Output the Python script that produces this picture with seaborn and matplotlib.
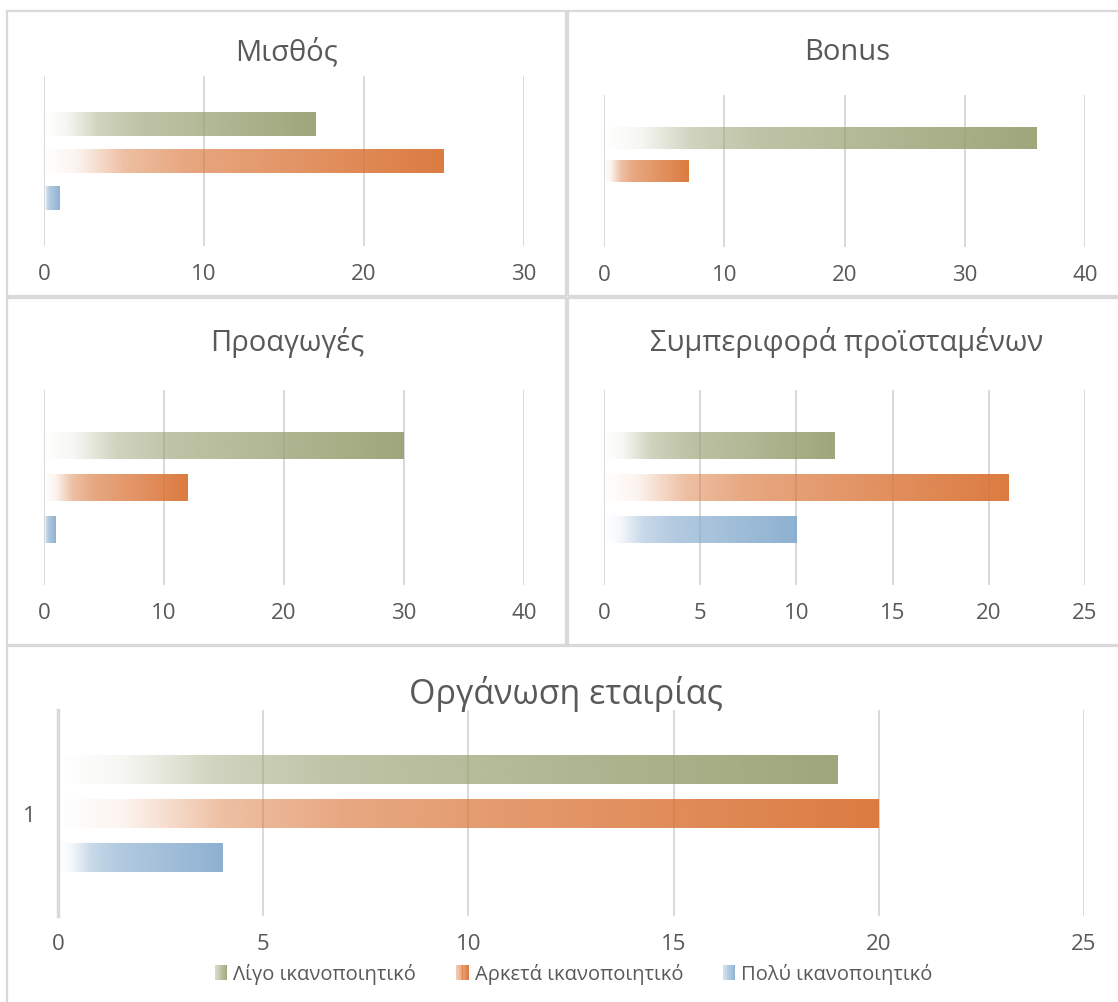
import numpy as np
import pandas as pd
import matplotlib
matplotlib.use("Agg")
import matplotlib.pyplot as plt
import seaborn as sns
from matplotlib.patches import Rectangle, Patch
from matplotlib.legend_handler import HandlerBase
from matplotlib.colors import to_rgb

# ---- data -------------------------------------------------------------
levels = ["Λίγο ικανοποιητικό", "Αρκετά ικανοποιητικό", "Πολύ ικανοποιητικό"]
category = ["1"]

salary = [17, 25, 1]
bonus = [36, 7, 0]
promotions = [30, 12, 1]
supervisors = [12, 21, 10]
organisation = [19, 20, 4]

titles = ["Μισθός", "Bonus", "Προαγωγές", "Συμπεριφορά προϊσταμένων", "Οργάνωση εταιρίας"]

ticks_salary = [0, 10, 20, 30]
ticks_bonus = [0, 10, 20, 30, 40]
ticks_promotions = [0, 10, 20, 30, 40]
ticks_supervisors = [0, 5, 10, 15, 20, 25]
ticks_organisation = [0, 5, 10, 15, 20, 25]

# ---- style ------------------------------------------------------------
sns.set_theme(style="white")
plt.rcParams["font.family"] = ["Open Sans", "DejaVu Sans"]
TEXT = "#595959"
GRID = "#D0D0D0"
BORDER = "#D9D9D9"
palette = ["#989F70", "#D97132", "#85ABCE"]

W, H = 1118, 1003
fig = plt.figure(figsize=(W / 100, H / 100), dpi=100)
fig.patch.set_facecolor("white")


def alpha_profile(t):
    return np.interp(t, [0.0, 0.08, 0.2, 0.35, 1.0], [0.0, 0.08, 0.45, 0.62, 0.93])


def gradient_fill(ax, patch, color):
    x, y = patch.get_x(), patch.get_y()
    w, h = patch.get_width(), patch.get_height()
    if w <= 0:
        patch.set_visible(False)
        return
    n = 256
    rgba = np.zeros((1, n, 4))
    rgba[..., :3] = to_rgb(color)
    rgba[0, :, 3] = alpha_profile(np.linspace(0, 1, n))
    ax.imshow(rgba, extent=(x, x + w, y, y + h), aspect="auto",
              interpolation="bilinear", zorder=1)
    patch.set_facecolor("none")
    patch.set_edgecolor("none")


def panel(values, ticks, title, box, title_pos, title_size, show_cat=False):
    x0, x1, ytop, ybot, cmid, spacing, thick = box
    ax = fig.add_axes([x0 / W, 1 - ybot / H, (x1 - x0) / W, (ybot - ytop) / H])
    df = pd.DataFrame({"cat": category * 3, "level": levels, "value": values})
    gap = 1 - thick / spacing
    sns.barplot(data=df, y="cat", x="value", hue="level", hue_order=levels,
                palette=palette, orient="h", width=0.8, gap=gap,
                legend=False, ax=ax, errorbar=None)
    for container, col in zip(ax.containers, palette):
        for p in container.patches:
            gradient_fill(ax, p, col)
    u = (0.8 / 3) / spacing
    ax.set_ylim((ybot - cmid) * u, -(cmid - ytop) * u)
    ax.set_xlim(ticks[0], ticks[-1])
    ax.set_xticks(ticks)
    ax.grid(axis="x", color=GRID, lw=1.1)
    ax.grid(axis="y", visible=False)
    ax.set_axisbelow(True)
    ax.set_xlabel("")
    ax.set_ylabel("")
    for s in ax.spines.values():
        s.set_visible(False)
    ax.tick_params(axis="x", length=0, pad=12, labelsize=16, labelcolor=TEXT)
    if show_cat:
        ax.spines["left"].set_visible(True)
        ax.spines["left"].set_color(BORDER)
        ax.spines["left"].set_linewidth(2.5)
        ax.tick_params(axis="y", length=0, pad=16, labelsize=16, labelcolor=TEXT)
    else:
        ax.set_yticks([])
    ax.patch.set_alpha(0)
    fig.text(title_pos[0] / W, 1 - title_pos[1] / H, title, ha="center", va="center",
             fontsize=title_size, color=TEXT)
    return ax


# panel frames
for bx0, bx1, by0, by1 in [(7, 566, 12, 297), (568, 1130, 12, 297),
                           (7, 566, 299, 646), (568, 1130, 299, 646),
                           (7, 1130, 647, 1010)]:
    fig.add_artist(Rectangle((bx0 / W, 1 - by1 / H), (bx1 - bx0) / W, (by1 - by0) / H,
                             transform=fig.transFigure, fill=False,
                             ec=BORDER, lw=1.6))

panel(salary, ticks_salary, titles[0], (44, 524, 77, 247, 162, 37, 24), (287, 53), 21)
panel(bonus, ticks_bonus, titles[1], (604, 1085, 96, 248, 172, 33, 22), (847, 53), 21)
panel(promotions, ticks_promotions, titles[2], (44, 524, 391, 586, 488.5, 42, 27), (287, 343), 21)
panel(supervisors, ticks_supervisors, titles[3], (604, 1085, 391, 586, 488.5, 42, 27), (847, 343), 21)
panel(organisation, ticks_organisation, titles[4], (58, 1084, 711, 917, 814.5, 44, 28.7),
      (566, 694), 24.5, show_cat=True)


# legend with gradient swatches
class GradientHandler(HandlerBase):
    def __init__(self, color, **kw):
        super().__init__(**kw)
        self.color = color

    def create_artists(self, legend, orig_handle, xdescent, ydescent,
                       width, height, fontsize, trans):
        n = 10
        arts = []
        for i in range(n):
            a = np.interp((i + 0.5) / n, [0, 1], [0.35, 0.93])
            r = Rectangle((-xdescent + i * width / n, -ydescent), width / n * 1.05, height,
                          facecolor=self.color, alpha=a, lw=0, transform=trans)
            arts.append(r)
        return arts


handles = [Patch(label=lv) for lv in levels]
hmap = {h: GradientHandler(c) for h, c in zip(handles, palette)}
fig.legend(handles=handles, handler_map=hmap, loc="center",
           bbox_to_anchor=(574 / W, 1 - 975 / H), ncol=3, frameon=False,
           fontsize=14.5, labelcolor=TEXT, handlelength=0.6, handleheight=0.75,
           handletextpad=0.3, columnspacing=2.0)

fig.savefig("out.png", dpi=100, facecolor="white")
